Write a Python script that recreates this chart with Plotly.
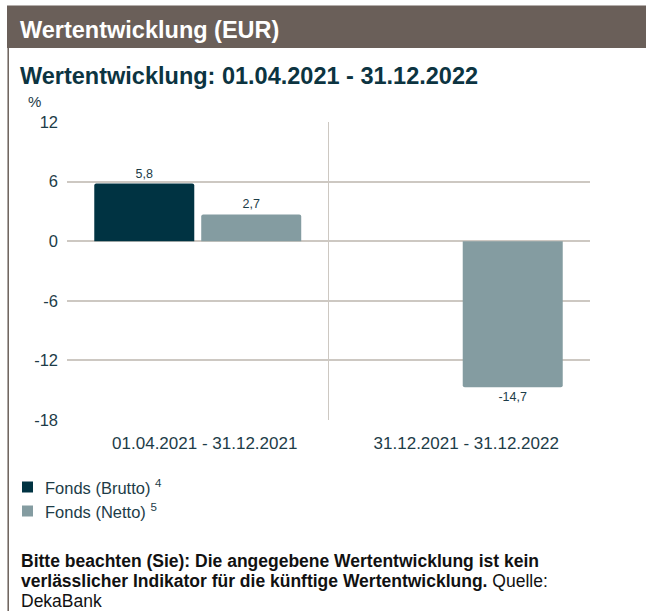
import plotly.graph_objects as go

# ---- data ----
categories = ["01.04.2021 - 31.12.2021", "31.12.2021 - 31.12.2022"]
brutto = [5.8, None]
netto = [2.7, -14.7]
series_names = ["Fonds (Brutto)", "Fonds (Netto)"]
series_notes = ["4", "5"]
y_ticks = [-18, -12, -6, 0, 6, 12]

header_title = "Wertentwicklung (EUR)"
chart_title = "Wertentwicklung: 01.04.2021 - 31.12.2022"
y_unit = "%"
footnote_lines = [
    "<b>Bitte beachten (Sie): Die angegebene Wertentwicklung ist kein</b>",
    "<b>verlässlicher Indikator für die künftige Wertentwicklung.</b> Quelle:",
    "DekaBank",
]

# ---- style ----
W, H = 646, 611
L, R, T, B = 67, 56, 122, 191
FONT = "Arial, Liberation Sans, sans-serif"
C_BRUTTO = "#003342"
C_NETTO = "#849ca1"
C_TEXT = "#1d3c48"
C_GRID = "#cdc8c2"
C_HEAD = "#6a5f59"

pw = W - L - R
ph = H - T - B


def px(x):
    return (x - L) / pw


def py(y):
    return (H - B - y) / ph


fig = go.Figure()
colors = [C_BRUTTO, C_NETTO]
for name, vals, col in zip(series_names, [brutto, netto], colors):
    fig.add_trace(go.Bar(
        x=categories, y=vals, name=name,
        marker=dict(color=col, cornerradius=2, line=dict(width=0)),
        texttemplate="%{y:.1f}", textposition="outside",
        textfont=dict(size=12.5, color=C_TEXT, family=FONT),
        cliponaxis=False, showlegend=False,
    ))

shapes = []
shapes.append(dict(type="rect", xref="paper", yref="paper",
                   x0=px(7), x1=px(646), y0=py(48), y1=py(5.5),
                   fillcolor=C_HEAD, line=dict(width=0), layer="below"))
shapes.append(dict(type="line", xref="paper", yref="paper",
                   x0=px(8.2), x1=px(8.2), y0=py(48), y1=py(611),
                   line=dict(color=C_HEAD, width=1.5)))
shapes.append(dict(type="line", xref="x", yref="y",
                   x0=0.5, x1=0.5, y0=y_ticks[0], y1=y_ticks[-1],
                   line=dict(color=C_GRID, width=1), layer="below"))

annotations = []
annotations.append(dict(text="<b>" + header_title + "</b>", xref="paper", yref="paper",
                        x=px(18), y=py(30), xanchor="left", yanchor="middle",
                        showarrow=False, font=dict(size=23.5, color="white", family=FONT)))
annotations.append(dict(text="<b>" + chart_title + "</b>", xref="paper", yref="paper",
                        x=px(18), y=py(76), xanchor="left", yanchor="middle",
                        showarrow=False, font=dict(size=23.5, color="#0c3441", family=FONT)))
annotations.append(dict(text=y_unit, xref="paper", yref="paper",
                        x=px(26), y=py(101), xanchor="left", yanchor="middle",
                        showarrow=False, font=dict(size=15, color=C_TEXT, family=FONT)))

leg_y = [487, 511]
for name, note, col, yy in zip(series_names, series_notes, colors, leg_y):
    shapes.append(dict(type="rect", xref="paper", yref="paper",
                       x0=px(22), x1=px(33), y0=py(yy + 5.5), y1=py(yy - 5.5),
                       fillcolor=col, line=dict(width=0)))
    annotations.append(dict(text=name + " <sup>" + note + "</sup>", xref="paper", yref="paper",
                            x=px(43), y=py(yy), xanchor="left", yanchor="middle",
                            showarrow=False, font=dict(size=16.5, color=C_TEXT, family=FONT)))

foot_y = [561, 581, 601]
for line, yy in zip(footnote_lines, foot_y):
    annotations.append(dict(text=line, xref="paper", yref="paper",
                            x=px(19), y=py(yy), xanchor="left", yanchor="middle", align="left",
                            showarrow=False, font=dict(size=17.5, color="#111111", family=FONT)))

fig.update_layout(
    width=W, height=H,
    margin=dict(l=L, r=R, t=T, b=B, autoexpand=False),
    paper_bgcolor="white", plot_bgcolor="white",
    barmode="group", bargap=0.182, bargroupgap=0.065,
    separators=",.",
    font=dict(family=FONT, color=C_TEXT, size=14),
    shapes=shapes, annotations=annotations,
    xaxis=dict(showgrid=False, zeroline=False, showline=False, ticks="",
               tickfont=dict(size=17, color=C_TEXT), ticklabelstandoff=11,
               ticklabelshift=7, fixedrange=True),
    yaxis=dict(range=[y_ticks[0], y_ticks[-1]], tickvals=y_ticks,
               ticktext=[str(v) for v in y_ticks],
               showgrid=True, gridcolor=C_GRID, gridwidth=2,
               zeroline=True, zerolinecolor=C_GRID, zerolinewidth=2,
               showline=False, ticks="", ticklabelstandoff=8,
               tickfont=dict(size=16.5, color=C_TEXT), fixedrange=True),
)

fig.write_html("out.html")
